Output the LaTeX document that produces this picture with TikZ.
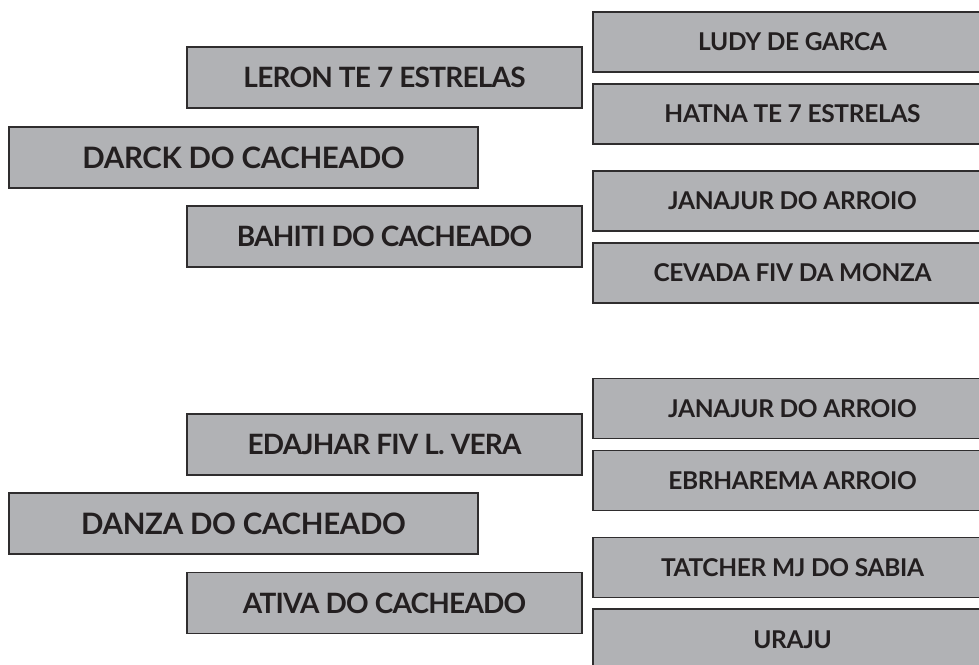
\documentclass[tikz,border=0pt]{standalone}
\usepackage{fontspec}
\setmainfont{Lato}
\definecolor{boxfill}{HTML}{B1B2B5}
\definecolor{boxline}{HTML}{2F2D2E}
\definecolor{txt}{HTML}{231F20}
\begin{document}
\begin{tikzpicture}[x=1pt,y=-1pt,
  basebox/.style={rectangle, draw=boxline, fill=boxfill, line width=1.1pt, inner sep=0pt,
    text=txt, text depth=0pt},
  bigbox/.style={basebox, minimum width=469pt, minimum height=61pt,
    font=\fontsize{29.5}{30}\selectfont\bfseries\addfontfeatures{LetterSpace=-1.1}, text height=21.1pt},
  midbox/.style={basebox, minimum width=395pt, minimum height=61pt,
    font=\fontsize{28}{28}\selectfont\bfseries\addfontfeatures{LetterSpace=-2.8}, text height=20.1pt},
  smallbox/.style={basebox, minimum width=399pt, minimum height=60pt,
    font=\fontsize{24.5}{25}\selectfont\bfseries\addfontfeatures{LetterSpace=-1.3}, text height=17.5pt}]
\useasboundingbox (0,0) rectangle (979,664);
\clip (0,0) rectangle (979,664);
% top group
\node[midbox] (leron) at (384.5,77.5) {LERON TE 7 ESTRELAS};
\node[bigbox] (darck) at (243.5,157.5) {DARCK DO CACHEADO};
\node[midbox] (bahiti) at (384.5,236.5) {BAHITI DO CACHEADO};
\node[smallbox] (ludy) at (792.5,42) {LUDY DE GARCA};
\node[smallbox] (hatna) at (792.5,114) {HATNA TE 7 ESTRELAS};
\node[smallbox] (janajura) at (792.5,201) {JANAJUR DO ARROIO};
\node[smallbox] (cevada) at (792.5,273) {CEVADA FIV DA MONZA};
% bottom group
\node[midbox] (edajhar) at (384.5,444.5) {EDAJHAR FIV L. VERA};
\node[bigbox] (danza) at (243.5,523.5) {DANZA DO CACHEADO};
\node[midbox] (ativa) at (384.5,603) {ATIVA DO CACHEADO};
\node[smallbox] (janajurb) at (792.5,408.5) {JANAJUR DO ARROIO};
\node[smallbox] (ebrharema) at (792.5,480.5) {EBRHAREMA ARROIO};
\node[smallbox] (tatcher) at (792.5,567.5) {TATCHER MJ DO SABIA};
\node[smallbox, minimum height=61pt] (uraju) at (792.5,639.5) {URAJU};
\end{tikzpicture}
\end{document}
